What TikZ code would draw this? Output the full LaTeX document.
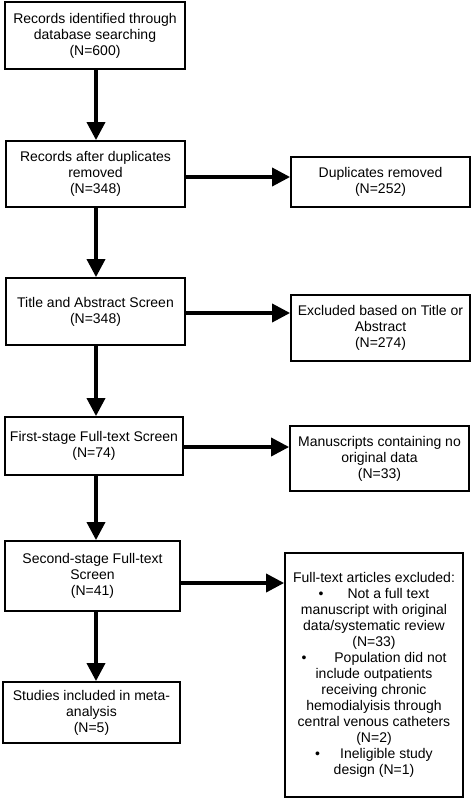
\documentclass[tikz,border=0pt]{standalone}
\usepackage{fontspec}
\setmainfont{Liberation Sans}
\usetikzlibrary{arrows.meta}
\begin{document}
\begin{tikzpicture}[x=1pt,y=-1pt,
  box/.style={draw=black,line width=1.8pt,align=center,inner sep=0pt,
    font=\fontsize{14pt}{16pt}\selectfont,anchor=center},
  arr/.style={line width=3.6pt,-{Triangle[length=18pt,width=18pt]}}]
\useasboundingbox (0,0) rectangle (472,800);
\coordinate (col) at (96,0);
\node[box,minimum width=180pt,minimum height=67pt] (b1) at (95,35.5)
  {Records identified through\\database searching\\(N=600)};
\node[box,minimum width=179pt,minimum height=66pt] (b2) at (95.5,174)
  {Records after duplicates\\removed\\(N=348)};
\node[box,minimum width=179pt,minimum height=50pt] (d1) at (380.5,182)
  {Duplicates removed\\(N=252)};
\node[box,minimum width=179pt,minimum height=67pt] (b3) at (95.5,311.5)
  {Title and Abstract Screen\\(N=348)};
\node[box,minimum width=179pt,minimum height=66pt] (d2) at (380.5,328)
  {Excluded based on Title or\\Abstract\\(N=274)};
\node[box,minimum width=178pt,minimum height=58pt] (b4) at (94,446)
  {First-stage Full-text Screen\\(N=74)};
\node[box,minimum width=179pt,minimum height=65pt] (d3) at (379.5,458.5)
  {Manuscripts containing no\\original data\\(N=33)};
\node[box,minimum width=175pt,minimum height=70pt] (b5) at (92.5,576)
  {Second-stage Full-text\\Screen\\(N=41)};
\node[box,minimum width=178pt,minimum height=244pt] (d4) at (374,675)
  {Full-text articles excluded:\\
   \textbullet\hspace{24pt}Not a full text\\
   manuscript with original\\
   data/systematic review\\
   (N=33)\\
   \textbullet\hspace{28pt}Population did not\\
   include outpatients\\
   receiving chronic\\
   hemodialyisis through\\
   central venous catheters\\
   (N=2)\\
   \textbullet\hspace{20pt}Ineligible study\\
   design (N=1)};
\node[box,minimum width=177pt,minimum height=61pt] (b6) at (91.5,712.5)
  {Studies included in meta-\\analysis\\(N=5)};
\draw[arr] (b1.south -| col) -- (b2.north -| col);
\draw[arr] (b2.south -| col) -- (b3.north -| col);
\draw[arr] (b3.south -| col) -- (b4.north -| col);
\draw[arr] (b4.south -| col) -- (b5.north -| col);
\draw[arr] (b5.south -| col) -- (b6.north -| col);
\draw[arr] ([yshift=-3pt]b2.east) -- ([yshift=-3pt]b2.east -| d1.west);
\draw[arr] ([yshift=-1.5pt]b3.east) -- ([yshift=-1.5pt]b3.east -| d2.west);
\draw[arr] ([yshift=-1pt]b4.east) -- ([yshift=-1pt]b4.east -| d3.west);
\draw[arr] ([yshift=-7pt]b5.east) -- ([yshift=-7pt]b5.east -| d4.west);
\end{tikzpicture}
\end{document}
